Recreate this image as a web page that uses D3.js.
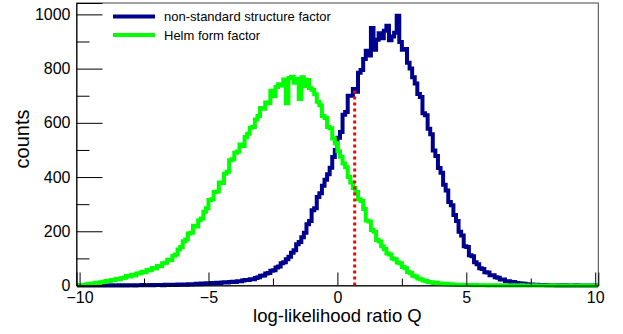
<!DOCTYPE html>
<meta charset="utf-8">
<script src="https://d3js.org/d3.v7.min.js"></script>
<style>
  body { margin: 0; background: #fff; }
  text { font-family: "Liberation Sans", Arial, Helvetica, sans-serif; fill: #000; }
</style>
<div id="chart"></div>
<script>

// histogram binning: 0.1 wide bins starting at -10.1 (202 bins)
const binLow = -10.1;
const binWidth = 0.1;

// Helm form factor counts, one value per bin
const helmCounts = [
  1,
  2,3,3,6,5,7,10,9,12,14,
  17,16,20,19,24,23,28,29,35,33,
  40,37,44,45,51,49,57,56,65,63,
  72,71,82,84,95,94,110,114,133,142,
  163,170,192,195,220,218,241,247,272,285,
  315,318,345,347,380,378,412,420,462,466,
  490,494,520,515,548,560,582,585,612,625,
  655,652,675,672,718,698,732,742,738,760,
  672,765,770,748,762,688,768,735,758,728,
  722,705,678,665,625,618,585,580,542,525,
  495,475,450,436,400,380,360,345,318,312,
  282,240,236,205,198,168,162,145,135,118,
  114,100,97,85,82,68,64,50,46,36,
  33,26,23,18,17,13,12,9,10,7,
  7,5,6,4,5,3,3,2,3,2,
  2,2,1,2,1,1,1,1,0,1,
  1,0,1,0,0,1,0,0,1,0,
  0,1,0,0,0,0,1,0,0,0,
  0,0,0,1,0,0,0,0,0,0,
  0,0,0,0,0,0,0,0,0,0,
  0
];

// non-standard structure factor counts, one value per bin
const nonStdCounts = [
  0,
  0,0,0,0,0,0,0,0,1,0,
  0,0,1,0,0,1,0,1,0,1,
  1,0,1,1,2,1,1,2,1,2,
  2,2,1,3,2,3,3,2,4,3,
  4,3,5,4,5,6,5,7,6,8,
  7,9,8,10,9,11,12,11,13,14,
  13,16,16,18,20,20,23,23,28,30,
  36,37,44,46,54,56,66,70,82,86,
  97,106,121,130,152,160,178,195,226,238,
  278,285,326,340,368,390,410,434,474,500,
  545,566,630,640,700,700,725,715,785,795,
  835,866,848,950,870,906,930,912,940,958,
  905,918,932,995,898,870,872,822,800,768,
  745,706,695,635,628,578,558,498,478,433,
  416,372,350,308,296,260,238,198,184,145,
  142,112,108,86,78,64,61,49,48,38,
  38,30,29,22,22,16,16,12,13,9,
  8,7,6,5,4,4,3,3,2,2,
  2,1,1,1,1,0,1,0,1,0,
  0,0,1,0,0,0,0,0,0,0,
  0
];

// dotted marker line
const markerQ = 0.67;
const markerTop = 725;

const legendLabels = ["non-standard structure factor", "Helm form factor"];
const xMajorTicks = [-10, -5, 0, 5, 10];
const xMinorTicks = [-7.5, -2.5, 2.5, 7.5];
const yMajorTicks = [0, 200, 400, 600, 800, 1000];
const yMinorTicks = [100, 300, 500, 700, 900];

const W = 623, H = 334;
const margin = {top: 3, right: 24.7, bottom: 48.5, left: 76.5},
  width = W - margin.left - margin.right,
  height = H - margin.top - margin.bottom;

const svg = d3.select("#chart")
  .append("svg")
    .attr("width", W)
    .attr("height", H)
  .append("g")
    .attr("transform", `translate(${margin.left},${margin.top})`);

const x = d3.scaleLinear().domain([-10.12, 10.12]).range([0, width]);
const y = d3.scaleLinear().domain([0, 1042]).range([height, 0]);

// frame (top and right sides)
svg.append("rect")
  .attr("x", 0).attr("y", 0)
  .attr("width", width).attr("height", height)
  .attr("fill", "none")
  .attr("stroke", "#444")
  .attr("stroke-width", 1);

// turn a list of bin counts into a step outline
function stepPoints(counts) {
  const pts = [];
  counts.forEach(function(c, i) {
    const lo = binLow + i * binWidth;
    pts.push([lo, c]);
    pts.push([lo + binWidth, c]);
  });
  return pts;
}

const line = d3.line()
  .x(d => x(d[0]))
  .y(d => y(d[1]));

svg.append("path")
  .datum(stepPoints(nonStdCounts))
  .attr("d", line)
  .attr("fill", "none")
  .attr("stroke", "#00008f")
  .attr("stroke-width", 4)
  .attr("stroke-linejoin", "miter");

svg.append("path")
  .datum(stepPoints(helmCounts))
  .attr("d", line)
  .attr("fill", "none")
  .attr("stroke", "#00ff00")
  .attr("stroke-width", 4)
  .attr("stroke-linejoin", "miter");

// red dotted line
svg.append("line")
  .attr("x1", x(markerQ)).attr("x2", x(markerQ))
  .attr("y1", y(0)).attr("y2", y(markerTop))
  .attr("stroke", "#ff0000")
  .attr("stroke-width", 3)
  .attr("stroke-dasharray", "3,3");

// X axis: ticks point inward
const xAxis = svg.append("g")
  .attr("transform", `translate(0,${height})`)
  .call(d3.axisBottom(x).tickValues(xMajorTicks).tickSize(-13).tickPadding(6));
xAxis.select(".domain").attr("stroke", "#000");
xAxis.selectAll("text").style("font-size", "16px");

svg.append("g")
  .attr("transform", `translate(0,${height})`)
  .call(d3.axisBottom(x).tickValues(xMinorTicks).tickSize(-7).tickFormat(""))
  .call(g => g.select(".domain").remove());

// Y axis
const yAxis = svg.append("g")
  .call(d3.axisLeft(y).tickValues(yMajorTicks).tickFormat(d3.format("d"))
    .tickSize(-26).tickPadding(6));
yAxis.select(".domain").attr("stroke", "#000");
yAxis.selectAll("text").style("font-size", "16px");

svg.append("g")
  .call(d3.axisLeft(y).tickValues(yMinorTicks).tickSize(-13).tickFormat(""))
  .call(g => g.select(".domain").remove());

// axis titles
svg.append("text")
  .attr("text-anchor", "middle")
  .attr("x", width / 2)
  .attr("y", 322 - margin.top)
  .style("font-size", "18.5px")
  .text("log-likelihood ratio Q");

svg.append("text")
  .attr("text-anchor", "middle")
  .attr("transform", "rotate(-90)")
  .attr("x", -(139 - margin.top))
  .attr("y", 29 - margin.left)
  .style("font-size", "20px")
  .text("counts");

// legend
const legendColors = ["#00008f", "#00ff00"];
const legend = svg.append("g")
  .attr("transform", `translate(${113 - margin.left},${16.5 - margin.top})`);
legendLabels.forEach(function(lbl, i) {
  legend.append("line")
    .attr("x1", 0).attr("x2", 42)
    .attr("y1", i * 18.5).attr("y2", i * 18.5)
    .attr("stroke", legendColors[i])
    .attr("stroke-width", 4);
  legend.append("text")
    .attr("x", 51)
    .attr("y", i * 18.5 + 4.5)
    .style("font-size", "13px")
    .text(lbl);
});

</script>
